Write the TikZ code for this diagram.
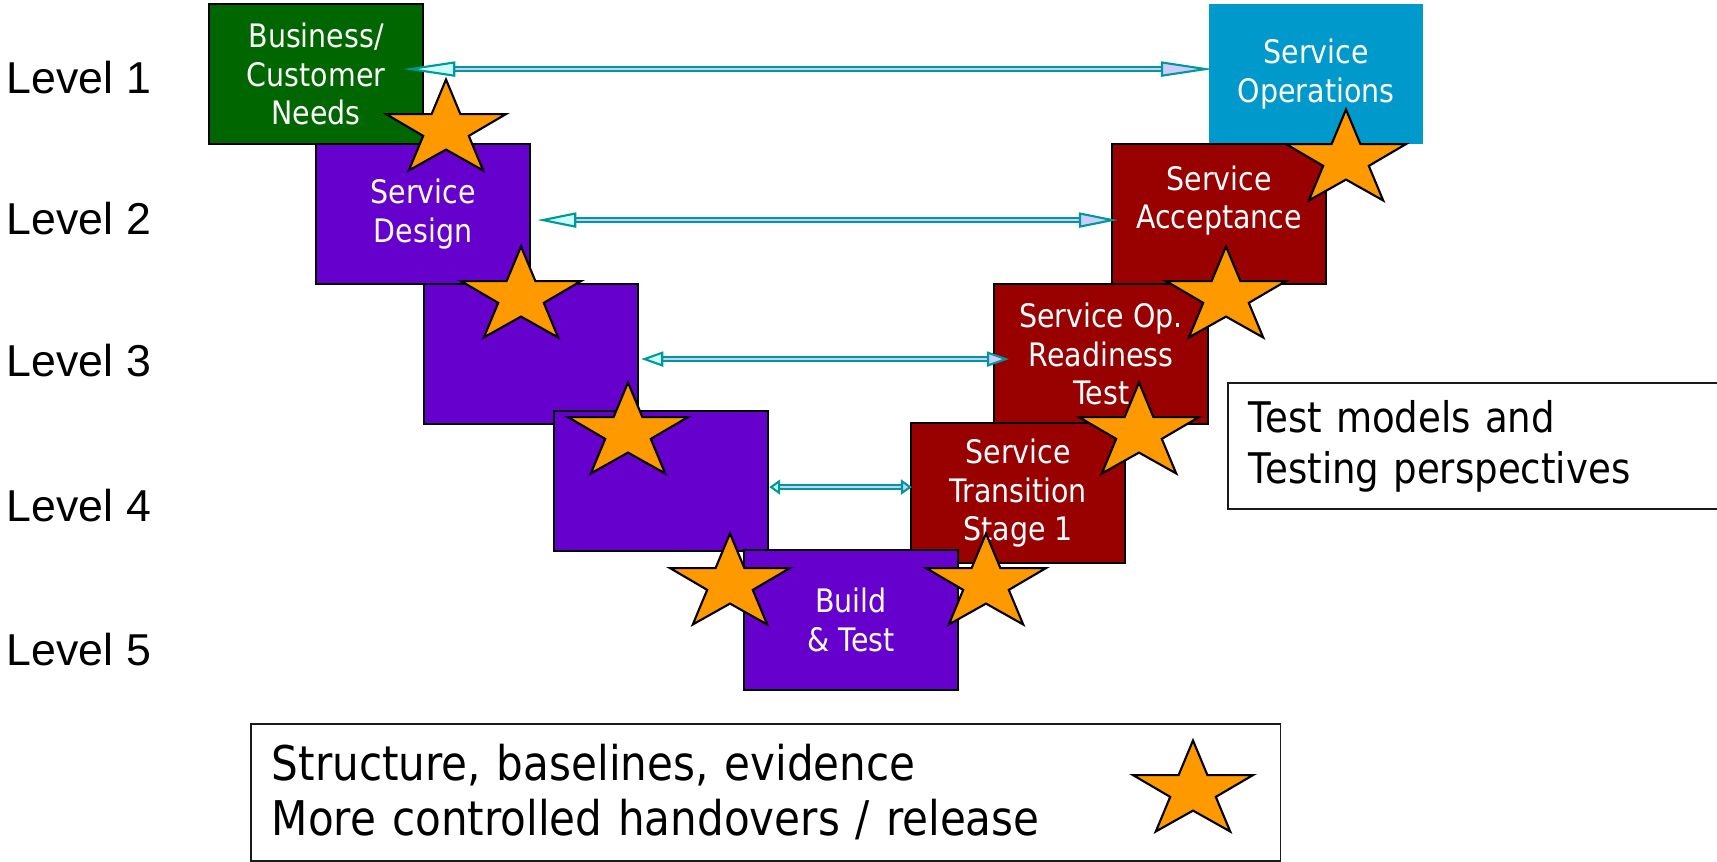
\documentclass[tikz,border=0pt]{standalone}
\usepackage{fontspec}
\setmainfont{DejaVu Sans}[FakeStretch=0.88]
\newfontfamily\lvlfont{Liberation Sans}
\usetikzlibrary{arrows.meta}
\definecolor{needgreen}{HTML}{006600}
\definecolor{dsgn}{HTML}{6600CC}
\definecolor{tstred}{HTML}{990000}
\definecolor{opsblue}{HTML}{0099CC}
\definecolor{starorange}{HTML}{FF9900}
\definecolor{linkteal}{HTML}{009999}
\definecolor{linkcyan}{HTML}{CCFFFF}
\definecolor{linklilac}{HTML}{CCCCFF}
\definecolor{rahmen}{HTML}{1A1A1A}
\tikzset{
  stage/.style={draw=black,line width=0.6pt,text=white,anchor=north west,align=center,
    minimum width=2.14cm,minimum height=1.40cm,inner sep=2pt,font=\fontsize{9.2}{11}\selectfont},
  lvl/.style={font=\lvlfont\fontsize{12.7}{14}\selectfont},
  note/.style={draw=rahmen,line width=0.5pt,fill=white,align=left,anchor=north west,inner xsep=0.21cm},
  link/.style={draw=linkteal,line width=0.6pt,double=linklilac,double distance=0.65pt,
    {Triangle[length=#1,width=1.5mm,fill=linkcyan]}-{Triangle[length=#1,width=1.5mm,fill=linklilac]}},
  starmark/.style={fill=starorange,draw=black,line width=0.6pt,line join=miter},
  pics/handover/.style={code={
    \draw[starmark] (0,-45.5) -- (14.4,-10.9) -- (60,-10.9) -- (22.8,10.9) -- (37.2,45.5)
      -- (0,24.6) -- (-37.2,45.5) -- (-22.8,10.9) -- (-60,-10.9) -- (-14.4,-10.9) -- cycle;
  }},
}

\begin{document}
\begin{tikzpicture}[x=0.01cm,y=-0.01cm]
  \useasboundingbox (0,0) rectangle (1717,862);
  \clip (0,0) rectangle (1717,862);

  \foreach \i/\y in {1/78,2/219,3/361,4/506,5/650}
    \node[lvl] (lvl\i) at (79,\y) {Level \i};

  \node[stage,fill=needgreen] (need) at (208,3) {Business/\\Customer\\Needs};
  \node[stage,fill=dsgn] (design) at (315,143) {Service\\Design};
  \node[stage,fill=dsgn] (leftthree) at (423,283) {};
  \node[stage,fill=dsgn] (leftfour) at (553,410) {};
  \node[stage,fill=opsblue,draw=none] (ops) at (1208,3) {Service\\Operations};
  \node[stage,fill=tstred] (accept) at (1111,143) {Service\\Acceptance\\[-0.05cm]\mbox{}};
  \node[stage,fill=tstred] (ready) at (993,283) {Service Op.\\Readiness\\Test};
  \node[stage,fill=tstred] (trans) at (910,422) {Service\\Transition\\Stage 1};
  \node[stage,fill=dsgn] (build) at (743,549) {Build\\\& Test};

  \draw[link=5.2mm] ([shift={(-21,-5)}]need.east) -- ([shift={(5,-5)}]ops.west);
  \draw[link=3.9mm] ([shift={(6,6)}]design.east) -- ([shift={(7,6)}]accept.west);
  \draw[link=2.2mm] ([shift={(2,5)}]leftthree.east) -- ([shift={(16,5)}]ready.west);
  \draw[link=1.1mm] ([shift={(0,6)}]leftfour.east) -- ([shift={(2,-6)}]trans.west);

  \pic at (446,125) {handover};
  \pic at (521,292) {handover};
  \pic at (628,428) {handover};
  \pic at (730,579) {handover};
  \pic at (986,579) {handover};
  \pic at (1139,428) {handover};
  \pic at (1226,292) {handover};
  \pic at (1346,155) {handover};

  \node[note,text width=5.0cm,minimum height=1.26cm,font=\fontsize{12}{14.5}\selectfont]
    (perspectives) at (1227,382) {Test models and\\Testing perspectives};
  \node[note,text width=9.87cm,minimum height=1.37cm,font=\fontsize{13.6}{15.6}\selectfont]
    (legend) at (250,723) {Structure, baselines, evidence\\More controlled handovers / release};
  \pic at (1193,786) {handover};
\end{tikzpicture}
\end{document}
